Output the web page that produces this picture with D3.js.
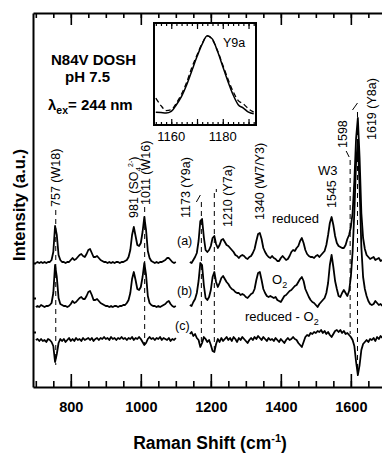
<!DOCTYPE html>
<html lang="en">
<head>
<meta charset="UTF-8">
<title>Raman spectra N84V DOSH</title>
<script src="https://d3js.org/d3.v7.min.js"></script>
<style>
    body { margin: 0; background: #fff; }
    svg text { font-family: "Liberation Sans", Arial, sans-serif; fill: #000; }
    .trace { fill: none; stroke: #000; stroke-width: 1.8; stroke-linejoin: round; }
    .guide { stroke: #000; stroke-width: 1; stroke-dasharray: 5 4; }
    .axis path, .axis line { stroke: #000; stroke-width: 2; }
    .bold { font-weight: bold; }
</style>
</head>
<body>
<svg width="382" height="454"></svg>
<script>
    // sampling grids (cm-1) of the two recorded windows
    const waveLow = d3.range(700, 1105, 5);
    const waveHigh = d3.range(1140, 1695, 5);

    // (a) reduced (a.u. above its own baseline)
    const reducedLow = [
        0, 1, 0, 1, 0, 1, 0, 1, 1, 3,
        11, 37, 28, 8, 3, 1, 1, 0, 1, 1,
        3, 5, 3, 4, 6, 8, 9, 7, 6, 9,
        13, 14, 10, 6, 6, 7, 5, 3, 2, 1,
        1, 0, 1, 0, 1, 0, 1, 1, 0, 1,
        1, 2, 3, 6, 13, 28, 36, 27, 18, 17,
        20, 31, 46, 33, 12, 5, 2, 1, 0, 1,
        0, 1, 1, 2, 3, 5, 5, 3, 1, 0,
        1];
    const reducedHigh = [
        1, 0, 3, 6, 10, 22, 42, 44, 26, 13,
        11, 13, 17, 25, 27, 19, 15, 18, 23, 24,
        21, 18, 17, 15, 13, 11, 8, 7, 5, 7,
        8, 7, 5, 4, 6, 7, 10, 14, 22, 29,
        30, 24, 15, 11, 8, 6, 5, 7, 5, 4,
        2, 2, 5, 7, 5, 3, 4, 7, 11, 13,
        12, 15, 17, 22, 25, 20, 13, 9, 7, 6,
        6, 5, 7, 8, 6, 8, 10, 12, 18, 28,
        40, 46, 38, 27, 20, 17, 16, 15, 15, 18,
        24, 28, 36, 50, 82, 125, 145, 105, 50, 25,
        14, 8, 6, 4, 5, 6, 3, 4, 5, 2,
        3];

    // (b) O2
    const oxyLow = [
        0, 1, 0, 2, 1, 0, 1, 1, 2, 4,
        14, 42, 30, 9, 3, 2, 1, 1, 0, 1,
        3, 6, 4, 5, 7, 9, 10, 8, 8, 11,
        15, 16, 12, 7, 7, 8, 6, 4, 3, 2,
        1, 1, 0, 1, 0, 1, 1, 0, 1, 1,
        2, 2, 4, 7, 14, 28, 35, 27, 18, 17,
        20, 30, 44, 32, 11, 4, 2, 1, 1, 0,
        1, 0, 1, 2, 3, 5, 6, 3, 1, 0,
        1];
    const oxyHigh = [
        2, 1, 5, 8, 14, 26, 44, 42, 22, 9,
        7, 10, 17, 30, 35, 25, 20, 24, 29, 31,
        28, 25, 23, 20, 18, 17, 15, 14, 14, 12,
        13, 12, 10, 9, 11, 13, 14, 18, 27, 34,
        35, 27, 18, 14, 11, 10, 11, 10, 9, 10,
        7, 6, 5, 8, 11, 12, 14, 16, 17, 19,
        21, 22, 25, 28, 30, 26, 18, 14, 10, 7,
        5, 4, 2, 0, 3, 5, 7, 9, 14, 24,
        42, 52, 40, 26, 18, 11, 10, 14, 17, 14,
        11, 16, 30, 55, 95, 145, 165, 120, 60, 30,
        18, 11, 6, 3, 2, 3, 6, 4, 2, 3,
        1];

    // (c) reduced - O2
    const diffLow = [
        0, 1, -1, 1, -1, 0, -2, 1, 0, -2,
        -6, -22, -14, -3, 1, -1, 1, -2, 0, 2,
        -1, 1, -1, 2, 0, 1, -1, 2, 0, 1,
        2, 0, 2, -1, 1, 2, 0, 2, 1, 3,
        1, 2, 0, 3, 1, 2, 0, 2, 1, 3,
        1, 2, 0, 2, 1, 3, 0, 2, 1, 3,
        1, -2, -5, -3, 1, 3, 1, 2, 0, 2,
        1, 3, 0, 2, 1, 0, 2, -1, 1, 0,
        2];
    const diffHigh = [
        6, 8, 4, 6, 2, 0, -7, -3, 3, 1,
        -2, 0, -5, -11, -12, -4, 1, -2, 2, -1,
        1, 3, 0, 2, -1, 3, 1, -2, 2, 0,
        3, 1, -1, -3, 0, 2, 0, 3, 1, 4,
        2, 0, 3, 1, -1, 2, 0, 1, -1, 2,
        0, -2, 1, -1, -3, 0, 2, 0, 1, 3,
        1, 0, -3, -5, -7, -2, 3, 5, 4, 7,
        6, 8, 7, 9, 8, 10, 7, 9, 6, 8,
        5, 3, 6, 9, 10, 8, 10, 7, 9, 6,
        7, 5, 3, 0, -6, -22, -35, -25, -10, -4,
        -2, 0, -2, 1, 0, 2, -1, 3, 1, 4,
        2];

    // vertical stacking of the three spectra
    const traceNames = ["a", "b", "c"];
    const traceOffsets = [124, 80, 47];
    const zeroMarks = [124, 89, 55];

    // inset: Y9a band
    const insetWave = d3.range(1154, 1193, 2);
    const insetReduced = [0.07, 0.065, 0.06, 0.08, 0.16, 0.26, 0.40, 0.57, 0.74, 0.89,
                          0.99, 0.95, 0.80, 0.62, 0.44, 0.28, 0.16, 0.12, 0.07, 0.05];
    const insetOxy = [0.24, 0.15, 0.09, 0.10, 0.18, 0.29, 0.43, 0.61, 0.76, 0.90,
                      0.99, 0.94, 0.81, 0.64, 0.47, 0.32, 0.21, 0.17, 0.11, 0.07];

    const majorTicks = [800, 1000, 1200, 1400, 1600];
    const minorTicks = d3.range(700, 1690, 50);
    const insetMajor = [1160, 1170, 1180, 1190];
    const insetMinor = d3.range(1154, 1193, 2);
    const insetLabels = [1160, 1180];

    // band labels: wavenumber, text, label bottom y, label x shift, dash top, dash bottom
    const bands = [
        [757, "757 (W18)", 207, 0, 210, 365],
        [1011, "1011 (W16)", 205, 1, 207, 345],
        [1173, "1173 (Y9a)", 218, -16, 202, 346],
        [1210, "1210 (Y7a)", 227, 13, 193, 352],
        [1340, "1340 (W7/Y3)", 220, 0, null, null],
        [1545, "1545", 208, 0, null, null],
        [1598, "1598", 148, -8, 160, 334],
        [1619, "1619 (Y8a)", 140, 14, 112, 376]
    ];
    // short leader strokes: wavenumber, x1, y1, x2, y2 (offsets from the guide top)
    const leaders = [[1173, -5, 0, -1, -7], [1210, 2, -1, 2, -4], [1598, -4, -9, -1, -3], [1619, -5, -2, 0, -9]];

    const svg = d3.select("svg");
    const x = d3.scaleLinear().domain([692, 1689]).range([33, 382]);
    const y = d3.scaleLinear().domain([0, 374]).range([387, 13]);

    svg.append("clipPath").attr("id", "plotClip")
        .append("rect").attr("x", 33).attr("y", 13).attr("width", 349).attr("height", 374);

    // dashed guides behind the spectra
    const guides = svg.append("g").attr("clip-path", "url(#plotClip)");
    bands.filter(b => b[4] !== null).forEach(b => {
        guides.append("line").attr("class", "guide")
            .attr("x1", x(b[0])).attr("x2", x(b[0]))
            .attr("y1", b[4]).attr("y2", b[5]);
    });

    // spectra
    const line = d3.line().x(d => x(d[0])).y(d => y(d[1]));
    const series = [
        [reducedLow, reducedHigh],
        [oxyLow, oxyHigh],
        [diffLow, diffHigh]
    ];
    const plot = svg.append("g").attr("clip-path", "url(#plotClip)");
    series.forEach((s, i) => {
        const off = traceOffsets[i];
        plot.append("path").attr("class", "trace trace-" + traceNames[i])
            .attr("d", line(waveLow.map((w, j) => [w, s[0][j] + off])));
        plot.append("path").attr("class", "trace trace-" + traceNames[i])
            .attr("d", line(waveHigh.map((w, j) => [w, s[1][j] + off])));
    });

    // axes: bottom and top with inward ticks, plain left spine
    const bottomAxis = svg.append("g").attr("class", "axis").attr("transform", "translate(0,387)");
    bottomAxis.call(d3.axisBottom(x).tickValues(minorTicks).tickSize(-6).tickSizeOuter(0).tickFormat(""));
    bottomAxis.append("g")
        .call(d3.axisBottom(x).tickValues(majorTicks).tickSize(-13).tickSizeOuter(0)
            .tickPadding(15).tickFormat(d3.format("d")))
        .call(g => g.select(".domain").remove())
        .selectAll("text")
        .attr("fill", "#000")
        .style("font-weight", "bold")
        .style("font-size", "14.5px")
        .style("font-family", "'Liberation Sans', Arial, sans-serif");
    bottomAxis.selectAll("line").style("stroke-width", 1.6);

    const topAxis = svg.append("g").attr("class", "axis").attr("transform", "translate(0,13)");
    topAxis.call(d3.axisTop(x).tickValues(minorTicks).tickSize(-5).tickSizeOuter(0).tickFormat(""));
    topAxis.append("g").call(d3.axisTop(x).tickValues(majorTicks).tickSize(-12).tickSizeOuter(0).tickFormat(""))
        .call(g => g.select(".domain").remove());
    topAxis.selectAll("line").style("stroke-width", 1.6);

    svg.append("g").attr("class", "axis").attr("transform", "translate(33,0)")
        .call(d3.axisLeft(y).tickValues(zeroMarks).tickSize(-3).tickSizeOuter(0).tickFormat(""));

    // axis titles
    svg.append("text").attr("class", "bold")
        .attr("transform", "translate(25,205) rotate(-90)")
        .attr("text-anchor", "middle").style("font-size", "16.5px")
        .text("Intensity (a.u.)");
    const xt = svg.append("text").attr("class", "bold")
        .attr("x", 210).attr("y", 449).attr("text-anchor", "middle").style("font-size", "17.5px");
    xt.append("tspan").text("Raman Shift (cm");
    xt.append("tspan").attr("dy", -7).style("font-size", "11px").text("-1");
    xt.append("tspan").attr("dy", 7).text(")");

    // sample description
    svg.append("text").attr("class", "bold").attr("x", 51).attr("y", 65)
        .style("font-size", "15px").text("N84V DOSH");
    svg.append("text").attr("class", "bold").attr("x", 65).attr("y", 82)
        .style("font-size", "15px").text("pH 7.5");
    const lam = svg.append("text").attr("class", "bold").attr("x", 48).attr("y", 110)
        .style("font-size", "15px");
    lam.append("tspan").text("λ");
    lam.append("tspan").attr("dy", 4).style("font-size", "10.5px").text("ex");
    lam.append("tspan").attr("dy", -4).text("= 244 nm");

    // rotated band labels
    bands.forEach(b => {
        svg.append("text")
            .attr("transform", `translate(${x(b[0]) + 4.5 + b[3]},${b[2]}) rotate(-90)`)
            .style("font-size", "12.5px").text(b[1]);
    });
    const so4 = svg.append("text")
        .attr("transform", `translate(${x(981) + 4},218) rotate(-90)`)
        .style("font-size", "12.5px");
    so4.append("tspan").text("981 (SO");
    so4.append("tspan").attr("dy", 3).style("font-size", "8px").text("4");
    so4.append("tspan").attr("dy", -8).style("font-size", "7px").text("2-");
    so4.append("tspan").attr("dy", 5).text(")");

    leaders.forEach(l => {
        const bx = x(l[0]);
        const top0 = bands.find(b => b[0] === l[0])[4];
        svg.append("line").attr("stroke", "#000").attr("stroke-width", 1)
            .attr("x1", bx + l[1]).attr("y1", top0 + l[2])
            .attr("x2", bx + l[3]).attr("y2", top0 + l[4]);
    });

    svg.append("text").attr("x", 318).attr("y", 175).style("font-size", "13px").text("W3");

    // trace labels
    svg.append("text").attr("x", 177).attr("y", 245).style("font-size", "12.5px").text("(a)");
    svg.append("text").attr("x", 177).attr("y", 295).style("font-size", "12.5px").text("(b)");
    svg.append("text").attr("x", 175).attr("y", 330).style("font-size", "12.5px").text("(c)");
    svg.append("text").attr("x", 272).attr("y", 223).style("font-size", "13px").text("reduced");
    const o2 = svg.append("text").attr("x", 272).attr("y", 284).style("font-size", "13px");
    o2.append("tspan").text("O");
    o2.append("tspan").attr("dy", 4).style("font-size", "9px").text("2");
    const rd = svg.append("text").attr("x", 245).attr("y", 321).style("font-size", "13px");
    rd.append("tspan").text("reduced - O");
    rd.append("tspan").attr("dy", 4).style("font-size", "9px").text("2");

    // inset
    const ix = d3.scaleLinear().domain([1153.3, 1192.9]).range([154, 256]);
    const iy = d3.scaleLinear().domain([0, 1]).range([118, 35]);
    svg.append("rect").attr("x", 154).attr("y", 23).attr("width", 102).attr("height", 102)
        .attr("fill", "#fff").attr("stroke", "#000").attr("stroke-width", 2);
    svg.append("clipPath").attr("id", "insetClip")
        .append("rect").attr("x", 154).attr("y", 23).attr("width", 102).attr("height", 102);
    const ig = svg.append("g").attr("clip-path", "url(#insetClip)");
    const iline = d3.line().x(d => ix(d[0])).y(d => iy(d[1])).curve(d3.curveMonotoneX);
    ig.append("path").attr("fill", "none").attr("stroke", "#000").attr("stroke-width", 1.5)
        .attr("d", iline(insetWave.map((w, j) => [w, insetReduced[j]])));
    ig.append("path").attr("fill", "none").attr("stroke", "#000").attr("stroke-width", 1.3)
        .attr("stroke-dasharray", "5 3")
        .attr("d", iline(insetWave.map((w, j) => [w, insetOxy[j]])));

    const ib = svg.append("g").attr("transform", "translate(0,125)");
    ib.call(d3.axisBottom(ix).tickValues(insetMinor).tickSize(-3).tickFormat(""))
        .call(g => g.select(".domain").remove());
    ib.append("g").call(d3.axisBottom(ix).tickValues(insetMajor).tickSize(-6).tickFormat(""))
        .call(g => g.select(".domain").remove());
    const it = svg.append("g").attr("transform", "translate(0,23)");
    it.call(d3.axisTop(ix).tickValues(insetMinor).tickSize(-3).tickFormat(""))
        .call(g => g.select(".domain").remove());
    it.append("g").call(d3.axisTop(ix).tickValues(insetMajor).tickSize(-6).tickFormat(""))
        .call(g => g.select(".domain").remove());
    ib.selectAll("line").attr("stroke", "#000").style("stroke-width", 1.2);
    it.selectAll("line").attr("stroke", "#000").style("stroke-width", 1.2);

    insetLabels.forEach(v => {
        svg.append("text").attr("x", ix(v)).attr("y", 141).attr("text-anchor", "middle")
            .style("font-size", "13px").text(v);
    });
    svg.append("text").attr("x", 223).attr("y", 47).style("font-size", "12.5px").text("Y9a");
</script>
</body>
</html>
